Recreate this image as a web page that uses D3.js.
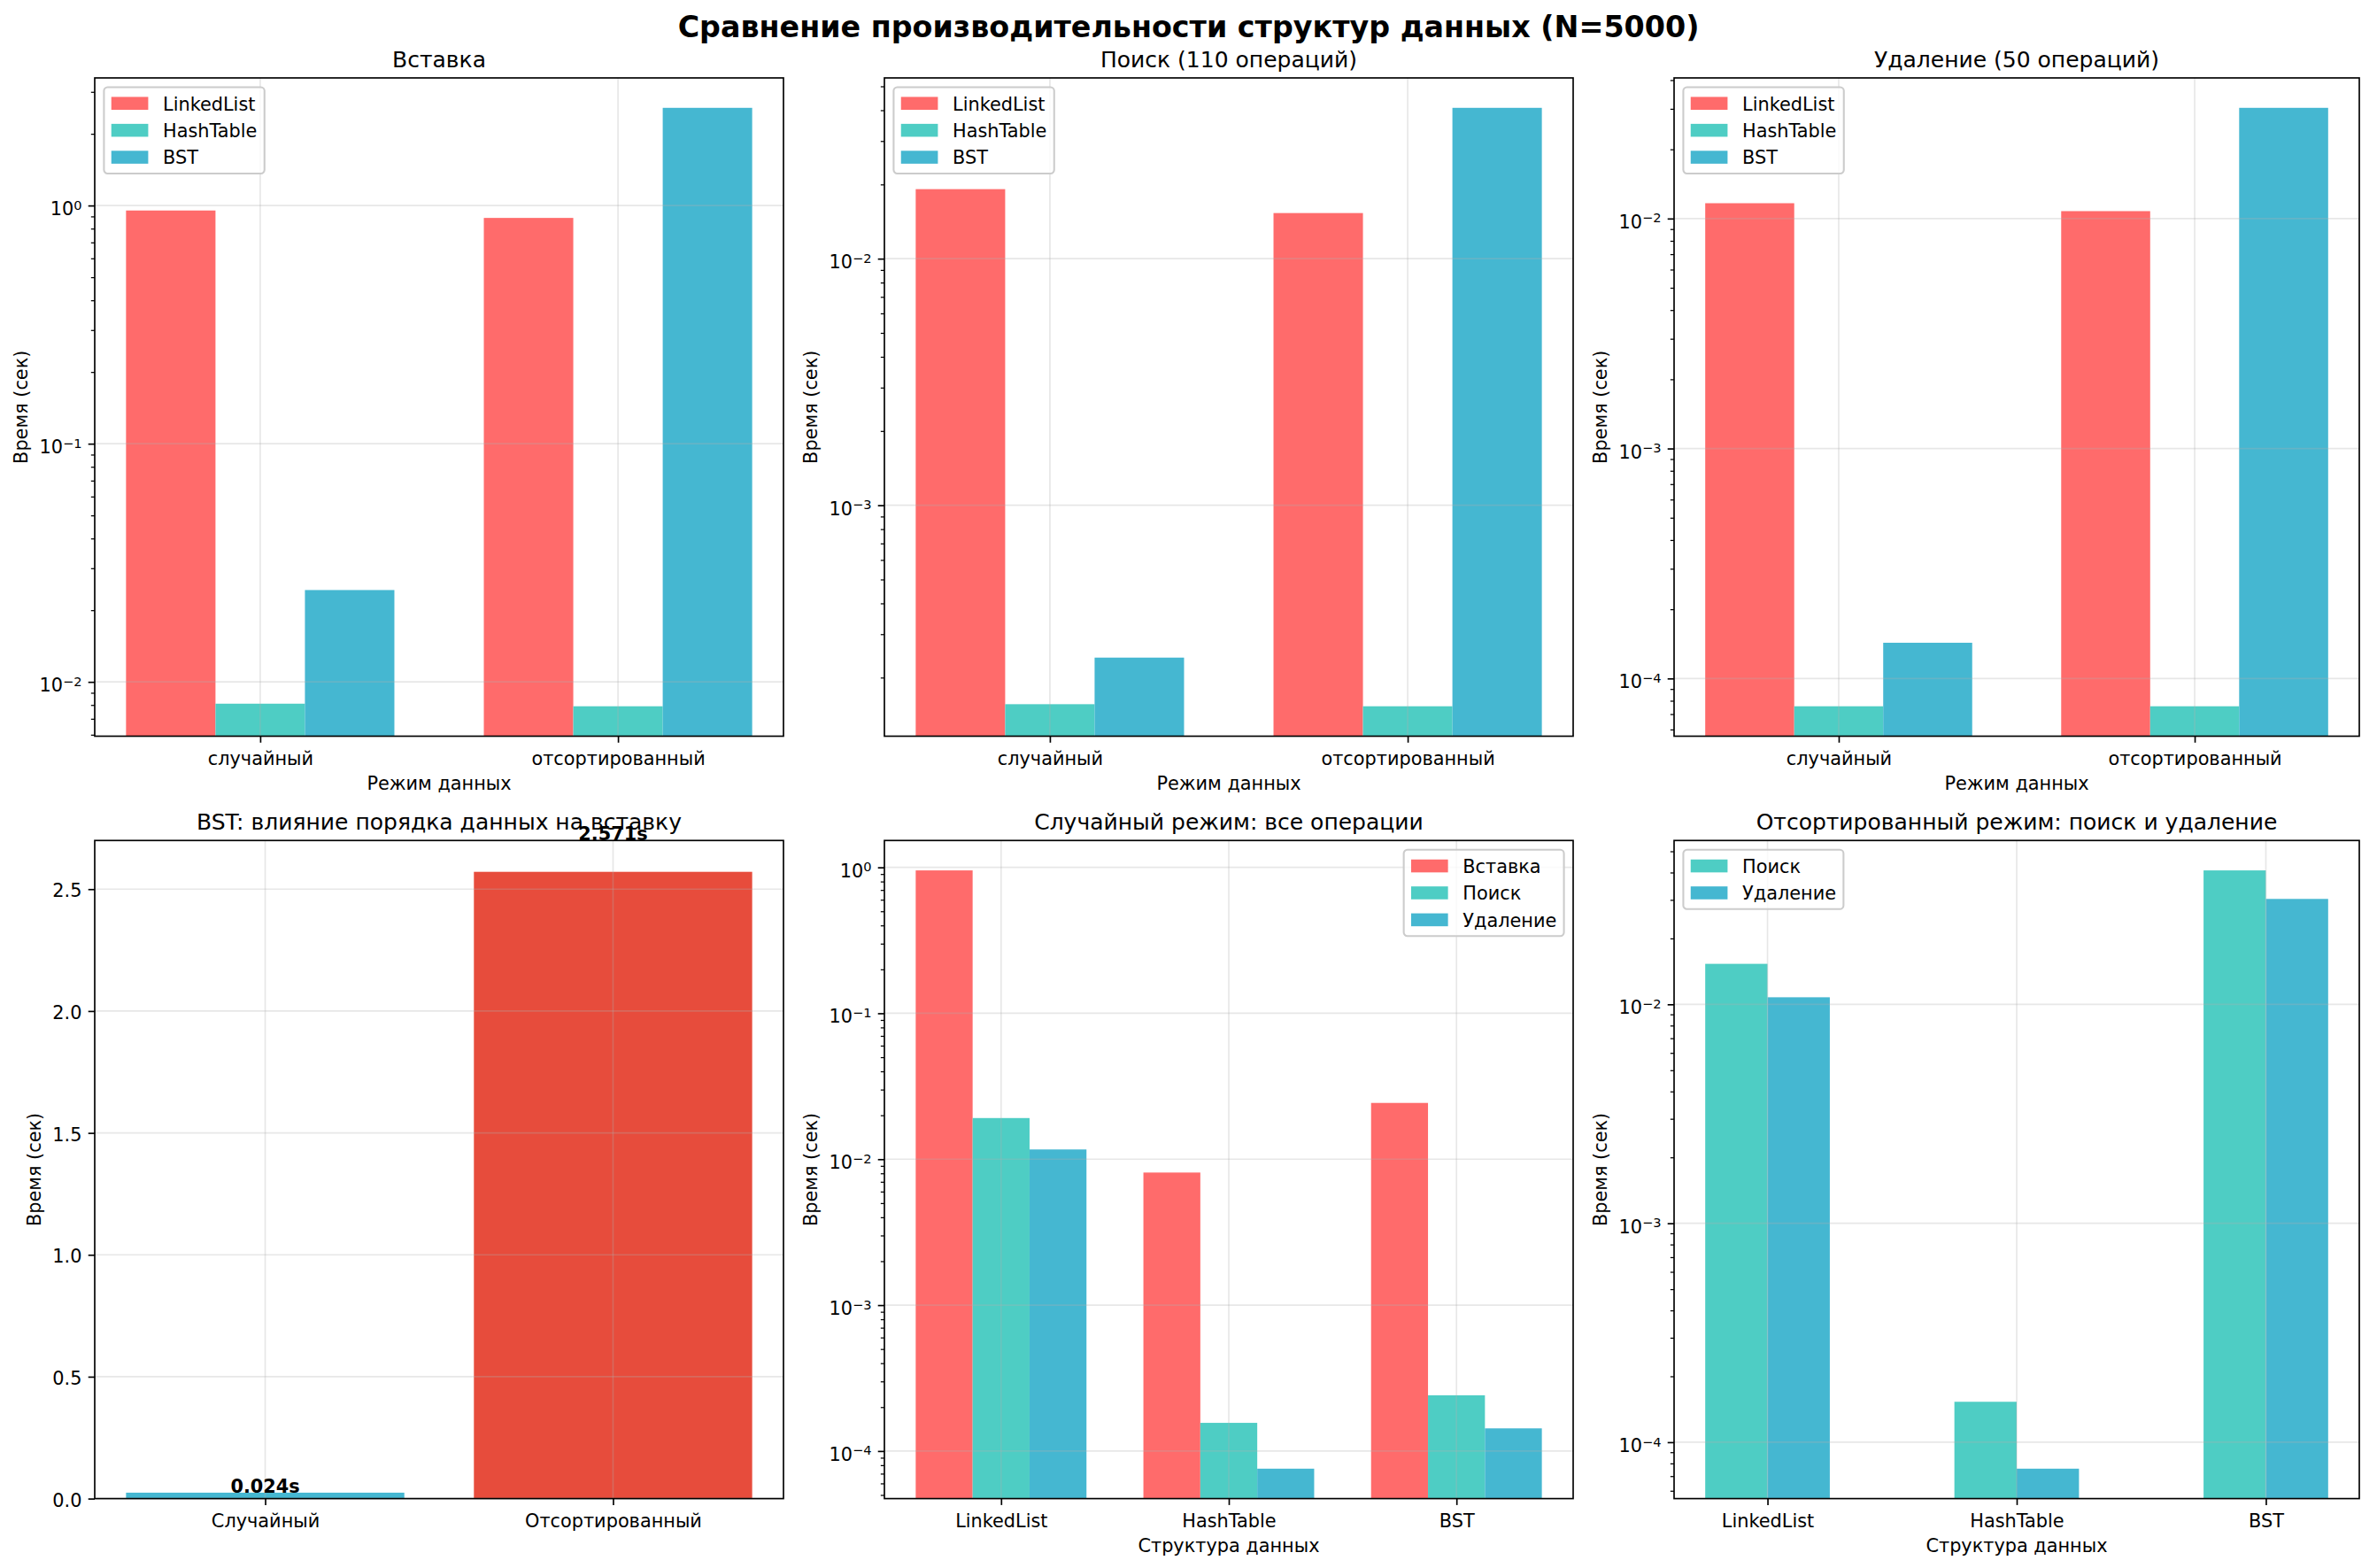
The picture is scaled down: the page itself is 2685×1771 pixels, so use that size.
<!DOCTYPE html>
<html>
<head>
<meta charset="utf-8">
<script src="https://cdn.jsdelivr.net/npm/d3@7"></script>
<style>
body { margin: 0; background: #fff; }
text { font-family: "DejaVu Sans", sans-serif; fill: #000; }
</style>
</head>
<body>
<div id="chart"></div>
<script>
// --- data (seconds) ---
var structures = ["LinkedList", "HashTable", "BST"];
var modes = ["случайный", "отсортированный"];
var modesTitle = ["Случайный", "Отсортированный"];
var operations = ["Вставка", "Поиск", "Удаление"];

// order: LinkedList, HashTable, BST
var insertRandom = [0.953, 0.0081, 0.0243];
var insertSorted = [0.887, 0.0079, 2.571];
var searchRandom = [0.01914, 0.000156, 0.000241];
var searchSorted = [0.01531, 0.000153, 0.0409];
var deleteRandom = [0.01166, 0.0000757, 0.000143];
var deleteSorted = [0.01077, 0.0000757, 0.0303];

var structColors = ["#FF6B6B", "#4ECDC4", "#45B7D1"];
var bstColors = ["#45B7D1", "#E74C3C"];

// --- layout ---
var W = 2685, H = 1771;
var pt = 150 / 72;
var fs = 10 * pt;           // ticks, labels, legend
var cols = [{l: 107, r: 885}, {l: 999, r: 1777}, {l: 1891, r: 2665}];
var rows = [{t: 88, b: 831.5}, {t: 949.3, b: 1692.6}];

var svg = d3.select("#chart").append("svg")
    .attr("width", W)
    .attr("height", H);

svg.append("text")
    .attr("x", W / 2)
    .attr("y", 42)
    .attr("text-anchor", "middle")
    .attr("font-size", 16 * pt)
    .attr("font-weight", "bold")
    .text("Сравнение производительности структур данных (N=5000)");

function logDomain(vals) {
    var lo = Math.log10(d3.min(vals)), hi = Math.log10(d3.max(vals)), m = (hi - lo) * 0.05;
    return [Math.pow(10, lo - m), Math.pow(10, hi + m)];
}

function styleAxis(sel) {
    sel.attr("font-family", null).attr("font-size", null);
    sel.select(".domain").remove();
    sel.selectAll(".tick line").attr("stroke", "#000");
}

function drawPanel(box, cfg) {
    var g = svg.append("g");
    var n = cfg.groups.length;
    var w = cfg.barWidth;
    var offs = cfg.series.map(function(s) { return s.offset; });
    var x0 = d3.min(offs) - w / 2, x1 = n - 1 + d3.max(offs) + w / 2, xm = (x1 - x0) * 0.05;
    var x = d3.scaleLinear().domain([x0 - xm, x1 + xm]).range([box.l, box.r]);

    var allVals = [];
    cfg.series.forEach(function(s) { allVals = allVals.concat(s.values); });
    var y;
    if (cfg.log) {
        y = d3.scaleLog().domain(logDomain(allVals)).range([box.b, box.t]);
    } else {
        y = d3.scaleLinear().domain([0, d3.max(allVals) * 1.05]).range([box.b, box.t]);
    }

    // bars
    cfg.series.forEach(function(s) {
        g.selectAll(null)
            .data(s.values)
            .enter().append("rect")
            .attr("x", function(d, i) { return x(i + s.offset - w / 2); })
            .attr("width", x(w) - x(0))
            .attr("y", function(d) { return y(d); })
            .attr("height", function(d) { return box.b - y(d); })
            .attr("fill", function(d, i) { return s.colors ? s.colors[i] : s.color; });
    });

    // ticks
    var major, minor = [];
    if (cfg.log) {
        var dom = y.domain();
        var k0 = Math.floor(Math.log10(dom[0])), k1 = Math.floor(Math.log10(dom[1]));
        major = [];
        for (var k = k0; k <= k1 + 1; k++) {
            var v = Math.pow(10, k);
            if (v >= dom[0] && v <= dom[1]) major.push(k);
            for (var m = 2; m <= 9; m++) {
                var mv = m * Math.pow(10, k);
                if (mv >= dom[0] && mv <= dom[1]) minor.push(mv);
            }
        }
    } else {
        major = y.ticks(6);
    }
    var majorVals = cfg.log ? major.map(function(k) { return Math.pow(10, k); }) : major;

    // grid (above bars, like matplotlib)
    var grid = g.append("g")
        .attr("stroke", "#b0b0b0")
        .attr("stroke-opacity", 0.3)
        .attr("stroke-width", 0.8 * pt);
    grid.selectAll(null).data(majorVals).enter().append("line")
        .attr("x1", box.l).attr("x2", box.r)
        .attr("y1", function(d) { return y(d); }).attr("y2", function(d) { return y(d); });
    grid.selectAll(null).data(d3.range(n)).enter().append("line")
        .attr("y1", box.t).attr("y2", box.b)
        .attr("x1", function(d) { return x(d); }).attr("x2", function(d) { return x(d); });

    // x axis
    var xa = g.append("g")
        .attr("transform", "translate(0," + box.b + ")")
        .call(d3.axisBottom(x)
            .tickValues(d3.range(n))
            .tickFormat(function(i) { return cfg.groups[i]; })
            .tickSize(3.5 * pt)
            .tickSizeOuter(0));
    styleAxis(xa);
    xa.selectAll(".tick line").attr("stroke-width", 0.8 * pt);
    xa.selectAll(".tick text")
        .attr("y", 32.3).attr("dy", null)
        .attr("font-size", fs);

    // y axis minor
    if (minor.length) {
        var ya2 = g.append("g")
            .attr("transform", "translate(" + box.l + ",0)")
            .call(d3.axisLeft(y).tickValues(minor).tickFormat("").tickSize(2 * pt).tickSizeOuter(0));
        styleAxis(ya2);
        ya2.selectAll(".tick line").attr("stroke-width", 0.6 * pt);
        ya2.selectAll(".tick text").remove();
    }
    // y axis major
    var ya = g.append("g")
        .attr("transform", "translate(" + box.l + ",0)")
        .call(d3.axisLeft(y)
            .tickValues(majorVals)
            .tickSize(3.5 * pt)
            .tickPadding(3.5 * pt)
            .tickSizeOuter(0)
            .tickFormat(cfg.log ? "" : d3.format(".1f")));
    styleAxis(ya);
    ya.selectAll(".tick line").attr("stroke-width", 0.8 * pt);
    var yt = ya.selectAll(".tick text")
        .attr("dy", null)
        .attr("font-size", fs);
    if (cfg.log) {
        yt.attr("y", 10.5).each(function(d) {
            var t = d3.select(this);
            var k = Math.round(Math.log10(d));
            t.text(null);
            t.append("tspan").text("10");
            t.append("tspan")
                .attr("dy", -6.4)
                .attr("font-size", fs * 0.7)
                .text(String(k).replace("-", "\u2212"));
        });
    } else {
        yt.attr("y", 8.5);
    }
    var maxW = 0;
    yt.each(function() { maxW = Math.max(maxW, this.getBBox().width); });

    // spines
    g.append("rect")
        .attr("x", box.l).attr("y", box.t)
        .attr("width", box.r - box.l).attr("height", box.b - box.t)
        .attr("fill", "none")
        .attr("stroke", "#000")
        .attr("stroke-width", 0.8 * pt);

    // titles and labels
    g.append("text")
        .attr("x", (box.l + box.r) / 2)
        .attr("y", box.t - 6 * pt)
        .attr("text-anchor", "middle")
        .attr("font-size", 12 * pt)
        .text(cfg.title);

    if (cfg.xlabel) {
        g.append("text")
            .attr("x", (box.l + box.r) / 2)
            .attr("y", box.b + 60.5)
            .attr("text-anchor", "middle")
            .attr("font-size", fs)
            .text(cfg.xlabel);
    }

    var ylx = box.l - 7 * pt - maxW - 4 * pt - 4.9;
    g.append("text")
        .attr("transform", "translate(" + ylx + "," + (box.t + box.b) / 2 + ") rotate(-90)")
        .attr("text-anchor", "middle")
        .attr("font-size", fs)
        .text("Время (сек)");

    // value labels
    if (cfg.valueLabels) {
        var s0 = cfg.series[0];
        g.selectAll(null)
            .data(s0.values)
            .enter().append("text")
            .attr("x", function(d, i) { return x(i + s0.offset); })
            .attr("y", function(d) { return y(d * 1.05); })
            .attr("text-anchor", "middle")
            .attr("font-size", fs)
            .attr("font-weight", "bold")
            .text(function(d) { return d.toFixed(3) + "s"; });
    }

    // legend
    if (cfg.legend) {
        var pad = 0.4 * fs, hl = 2.0 * fs, htp = 0.8 * fs, ls = 0.5 * fs, rowH = 20, bap = 0.5 * fs;
        var lg = g.append("g");
        var frame = lg.append("rect");
        var items = lg.selectAll(null).data(cfg.series).enter().append("g");
        items.append("rect")
            .attr("x", pad)
            .attr("y", function(d, i) { return pad + i * (rowH + ls) + rowH / 2 - 0.35 * fs; })
            .attr("width", hl)
            .attr("height", 0.7 * fs)
            .attr("fill", function(d) { return d.color; });
        var lt = items.append("text")
            .attr("x", pad + hl + htp)
            .attr("y", function(d, i) { return pad + i * (rowH + ls) + rowH / 2 + 7.8; })
            .attr("font-size", fs)
            .text(function(d) { return d.name; });
        var tw = 0;
        lt.each(function() { tw = Math.max(tw, this.getComputedTextLength()); });
        var lw = pad * 2 + hl + htp + tw;
        var lh = pad * 2 + cfg.series.length * rowH + (cfg.series.length - 1) * ls;
        frame.attr("width", lw).attr("height", lh)
            .attr("rx", 0.2 * fs).attr("ry", 0.2 * fs)
            .attr("fill", "#fff").attr("fill-opacity", 0.8)
            .attr("stroke", "#cccccc").attr("stroke-width", 1 * pt);
        var lx = cfg.legend === "right" ? box.r - bap - lw : box.l + bap;
        lg.attr("transform", "translate(" + lx + "," + (box.t + bap) + ")");
    }
}

function modeSeries(randomVals, sortedVals) {
    return structures.map(function(name, i) {
        return {name: name, color: structColors[i], offset: (i - 1) * 0.25,
                values: [randomVals[i], sortedVals[i]]};
    });
}

drawPanel({l: cols[0].l, r: cols[0].r, t: rows[0].t, b: rows[0].b}, {
    title: "Вставка", groups: modes, barWidth: 0.25, log: true, xlabel: "Режим данных", legend: "left",
    series: modeSeries(insertRandom, insertSorted)
});
drawPanel({l: cols[1].l, r: cols[1].r, t: rows[0].t, b: rows[0].b}, {
    title: "Поиск (110 операций)", groups: modes, barWidth: 0.25, log: true, xlabel: "Режим данных", legend: "left",
    series: modeSeries(searchRandom, searchSorted)
});
drawPanel({l: cols[2].l, r: cols[2].r, t: rows[0].t, b: rows[0].b}, {
    title: "Удаление (50 операций)", groups: modes, barWidth: 0.25, log: true, xlabel: "Режим данных", legend: "left",
    series: modeSeries(deleteRandom, deleteSorted)
});

drawPanel({l: cols[0].l, r: cols[0].r, t: rows[1].t, b: rows[1].b}, {
    title: "BST: влияние порядка данных на вставку", groups: modesTitle, barWidth: 0.8, log: false,
    valueLabels: true,
    series: [{name: "BST", colors: bstColors, offset: 0, values: [insertRandom[2], insertSorted[2]]}]
});
drawPanel({l: cols[1].l, r: cols[1].r, t: rows[1].t, b: rows[1].b}, {
    title: "Случайный режим: все операции", groups: structures, barWidth: 0.25, log: true,
    xlabel: "Структура данных", legend: "right",
    series: [
        {name: operations[0], color: structColors[0], offset: -0.25, values: insertRandom},
        {name: operations[1], color: structColors[1], offset: 0, values: searchRandom},
        {name: operations[2], color: structColors[2], offset: 0.25, values: deleteRandom}
    ]
});
drawPanel({l: cols[2].l, r: cols[2].r, t: rows[1].t, b: rows[1].b}, {
    title: "Отсортированный режим: поиск и удаление", groups: structures, barWidth: 0.25, log: true,
    xlabel: "Структура данных", legend: "left",
    series: [
        {name: operations[1], color: structColors[1], offset: -0.125, values: searchSorted},
        {name: operations[2], color: structColors[2], offset: 0.125, values: deleteSorted}
    ]
});
</script>
</body>
</html>
